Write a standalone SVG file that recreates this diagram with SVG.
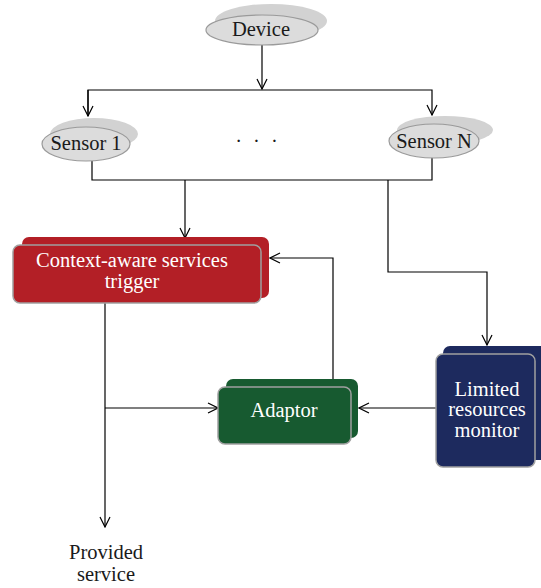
<svg xmlns="http://www.w3.org/2000/svg" width="541" height="588" viewBox="0 0 541 588">
<style>
text{font-family:"Liberation Serif","Times New Roman",serif;font-size:20.5px;text-anchor:middle}
.dk{fill:#1a1a1a}
.wt{fill:#ffffff}
.sh{fill:#d2d2d2}
.el{fill:#dcdcdc;stroke:#9a9a9a;stroke-width:1.2}
.ln{fill:none;stroke:#000;stroke-width:1.2}
.fr{stroke:#a0a0a0;stroke-width:1.5}
</style>
<defs>
<marker id="ar" viewBox="0 0 12 12" refX="11" refY="6" markerWidth="12" markerHeight="12" markerUnits="userSpaceOnUse" orient="auto">
<polyline points="1,1 11,6 1,11" fill="none" stroke="#000" stroke-width="1.2"/>
</marker>
</defs>
<rect width="541" height="588" fill="#fff"/>
<g id="connectors" class="ln">
<path d="M262,45 V89" marker-end="url(#ar)"/>
<path d="M88,116 V90 H432 V115" marker-end="url(#ar)"/>
<path d="M88,90 V116" marker-end="url(#ar)"/>
<path d="M92,161 V180 H432 V157"/>
<path d="M185,180 V238" marker-end="url(#ar)"/>
<path d="M388,180 V272 H487 V345" marker-end="url(#ar)"/>
<path d="M333,380 V258 H270" marker-end="url(#ar)"/>
<path d="M105,303 V527" marker-end="url(#ar)"/>
<path d="M105,408 H218" marker-end="url(#ar)"/>
<path d="M437,408 H359" marker-end="url(#ar)"/>
</g>
<g id="device">
<ellipse class="sh" cx="271" cy="21" rx="56" ry="17"/>
<ellipse class="el" cx="262" cy="30" rx="56" ry="15"/>
<text class="dk" x="261" y="36">Device</text>
</g>
<g id="sensor1">
<ellipse class="sh" cx="94" cy="134" rx="44" ry="16"/>
<ellipse class="el" cx="86" cy="144" rx="44" ry="17"/>
<text class="dk" x="86" y="150">Sensor 1</text>
</g>
<g id="dots">
<text class="dk" x="258" y="148" style="letter-spacing:3px">· · ·</text>
</g>
<g id="sensorN">
<ellipse class="sh" cx="445" cy="130" rx="48" ry="14"/>
<ellipse class="el" cx="434" cy="141" rx="45" ry="17"/>
<text class="dk" x="434" y="148">Sensor N</text>
</g>
<g id="context">
<rect x="22" y="237" width="247" height="61" rx="7" fill="#b31f26"/>
<rect class="fr" x="13" y="245" width="248" height="58" rx="7" fill="#b31f26"/>
<text class="wt" x="132" y="267">Context-aware services</text>
<text class="wt" x="132" y="288">trigger</text>
</g>
<g id="adaptor">
<rect x="226" y="379" width="132" height="59" rx="7" fill="#175a30"/>
<rect class="fr" x="218" y="387" width="133" height="57" rx="7" fill="#175a30"/>
<text class="wt" x="284" y="417">Adaptor</text>
</g>
<g id="monitor">
<rect x="443" y="346" width="110" height="114" rx="7" fill="#1d2a5e"/>
<rect class="fr" x="436" y="354" width="99" height="113" rx="7" fill="#1d2a5e"/>
<text class="wt" x="487" y="396">Limited</text>
<text class="wt" x="487" y="416">resources</text>
<text class="wt" x="487" y="437">monitor</text>
</g>
<g id="provided">
<text class="dk" x="106" y="559">Provided</text>
<text class="dk" x="106" y="581">service</text>
</g>
</svg>
